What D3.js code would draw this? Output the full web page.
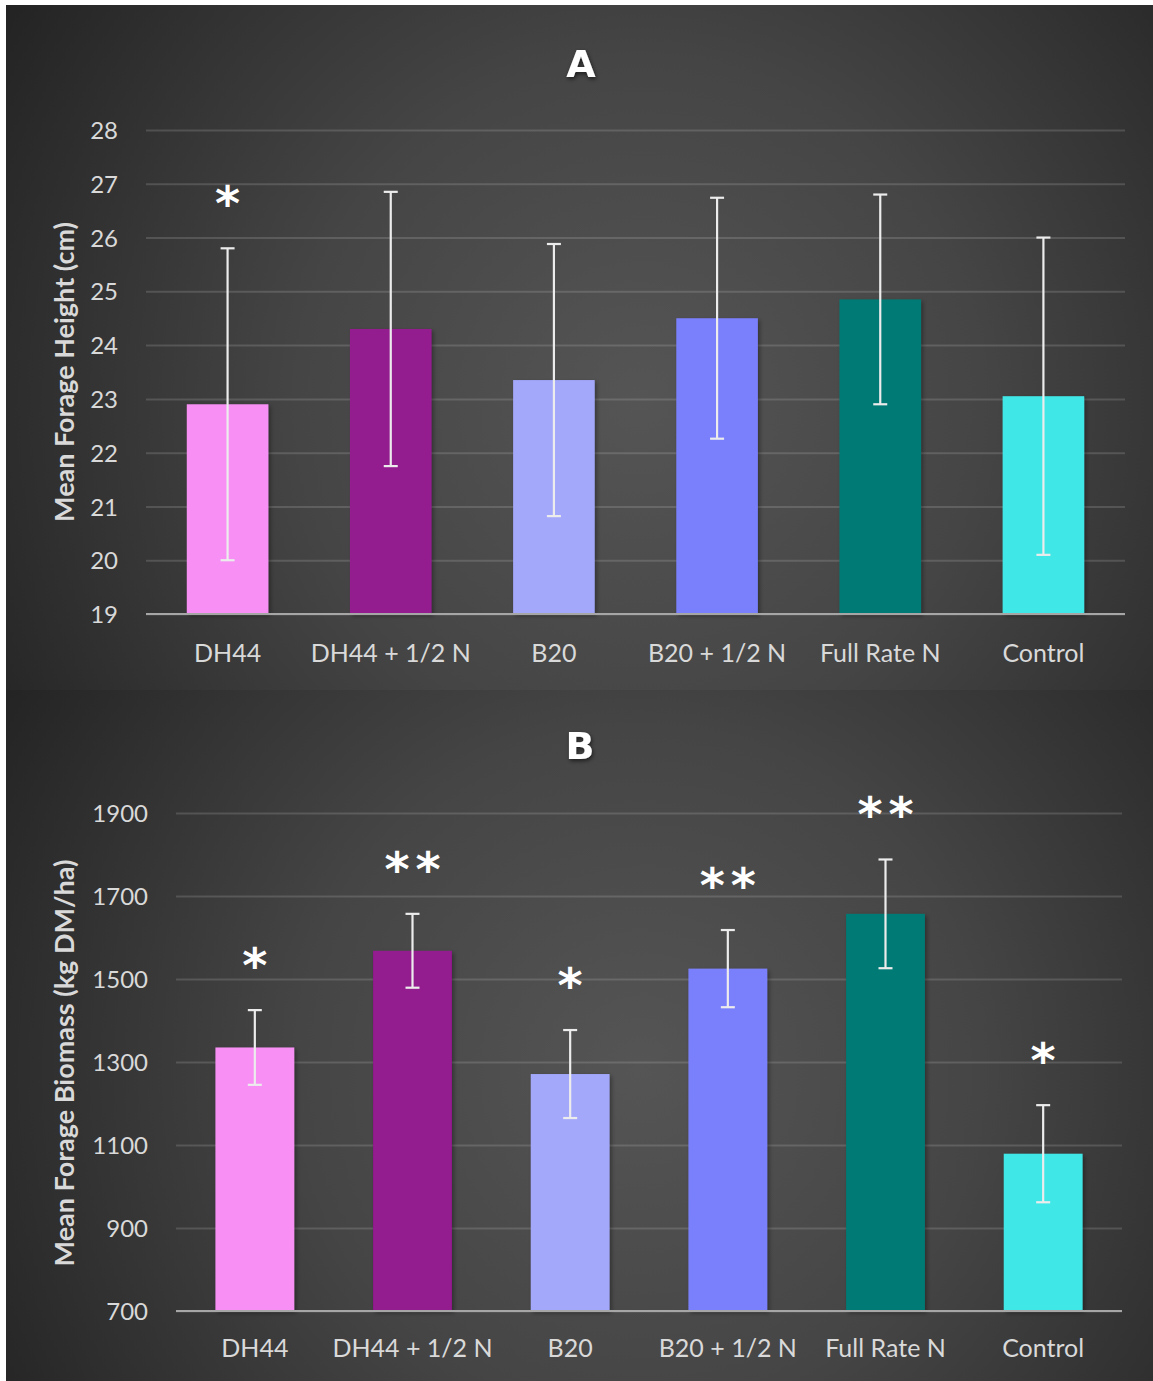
<!DOCTYPE html>
<html><head><meta charset="utf-8">
<script src="https://cdn.jsdelivr.net/npm/d3@7"></script>
<style>html,body{margin:0;padding:0;background:#fff;}svg{display:block;}</style>
</head><body>
<script>
const categories = ["DH44", "DH44 + 1/2 N", "B20", "B20 + 1/2 N", "Full Rate N", "Control"];
const colors = ["#f78ff5", "#931b8e", "#a3a8fb", "#7a7ffb", "#007a74", "#41e7e7"];
// Panel A: mean forage height (cm)
const heightMeans = [22.9, 24.3, 23.35, 24.5, 24.85, 23.05];
const heightErr   = [2.9, 2.55, 2.53, 2.24, 1.95, 2.95];
const heightStars = ["*", "", "", "", "", ""];
const heightTicks = [19, 20, 21, 22, 23, 24, 25, 26, 27, 28];
// Panel B: mean forage biomass (kg DM/ha)
const biomassMeans = [1335, 1568, 1271, 1525, 1657, 1079];
const biomassErr   = [90, 89, 106, 93, 131, 117];
const biomassStars = ["*", "**", "*", "**", "**", "*"];
const biomassTicks = [700, 900, 1100, 1300, 1500, 1700, 1900];

const W = 1153, H = 1381;
const svg = d3.select("body").append("svg").attr("width", W).attr("height", H);
const defs = svg.append("defs");
function radial(id, cx, cy, r) {
  const g = defs.append("radialGradient").attr("id", id).attr("gradientUnits", "userSpaceOnUse")
    .attr("cx", cx).attr("cy", cy).attr("r", r);
  g.append("stop").attr("offset", "0").attr("stop-color", "#555555");
  g.append("stop").attr("offset", "0.45").attr("stop-color", "#454545");
  g.append("stop").attr("offset", "1").attr("stop-color", "#222222");
}
radial("bgA", 640, 400, 760);
radial("bgB", 640, 1070, 760);
const sh = defs.append("filter").attr("id", "shadow").attr("x", "-20%").attr("y", "-20%").attr("width", "140%").attr("height", "140%");
sh.append("feDropShadow").attr("dx", 2).attr("dy", 2).attr("stdDeviation", 2).attr("flood-color", "#000").attr("flood-opacity", 0.35);
const tsh = defs.append("filter").attr("id", "tshadow").attr("x", "-50%").attr("y", "-50%").attr("width", "200%").attr("height", "200%");
tsh.append("feDropShadow").attr("dx", 1).attr("dy", 2).attr("stdDeviation", 2).attr("flood-color", "#000").attr("flood-opacity", 0.6);

svg.append("rect").attr("x", 6).attr("y", 5).attr("width", W - 6).attr("height", 686).attr("fill", "url(#bgA)");
svg.append("rect").attr("x", 6).attr("y", 690).attr("width", W - 6).attr("height", H - 690).attr("fill", "url(#bgB)");

const FONT = "Lato, 'Open Sans', sans-serif";
const TXT = "#d9d9d9";

function panel(o) {
  const g = svg.append("g");
  const x = d3.scaleBand().domain(categories).range([o.x0, o.x1]).paddingInner(0.5).paddingOuter(0.25);
  const y = d3.scaleLinear().domain(o.domain).range([o.yb, o.yt]);

  // gridlines via axis
  const grid = g.append("g").attr("transform", `translate(${o.x0},0)`)
    .call(d3.axisLeft(y).tickValues(o.ticks).tickSize(-(o.x1 - o.x0)).tickFormat(""));
  grid.select(".domain").remove();
  grid.selectAll(".tick line").attr("stroke", "#d9d9d9").attr("stroke-opacity", 0.18).attr("stroke-width", 2);

  // y tick labels
  const yAx = g.append("g").attr("transform", `translate(${o.labelX},0)`)
    .call(d3.axisLeft(y).tickValues(o.ticks).tickSize(0).tickPadding(0).tickFormat(d3.format("d")));
  yAx.select(".domain").remove();
  yAx.selectAll("text").attr("fill", TXT).style("font-family", FONT).style("font-size", "24px").attr("dy", "0.36em");

  // bars
  g.selectAll("rect.bar").data(categories).join("rect").attr("class", "bar")
    .attr("x", d => x(d)).attr("width", x.bandwidth())
    .attr("y", (d, i) => y(o.means[i])).attr("height", (d, i) => y(o.domain[0]) - y(o.means[i]))
    .attr("fill", (d, i) => colors[i]).attr("filter", "url(#shadow)");

  // baseline
  g.append("line").attr("x1", o.x0).attr("x2", o.x1).attr("y1", y(o.domain[0])).attr("y2", y(o.domain[0]))
    .attr("stroke", "#a6a6a6").attr("stroke-width", 2);

  // error bars
  const eg = g.append("g").attr("stroke", "#ececec").attr("stroke-width", 2.2).attr("fill", "none");
  categories.forEach((c, i) => {
    const cx = x(c) + x.bandwidth() / 2;
    const hi = y(o.means[i] + o.err[i]), lo = y(o.means[i] - o.err[i]);
    eg.append("line").attr("x1", cx).attr("x2", cx).attr("y1", hi).attr("y2", lo);
    eg.append("line").attr("x1", cx - 7).attr("x2", cx + 7).attr("y1", hi).attr("y2", hi);
    eg.append("line").attr("x1", cx - 7).attr("x2", cx + 7).attr("y1", lo).attr("y2", lo);
  });

  // stars above the error-bar tops
  g.selectAll("text.star").data(categories).join("text").attr("class", "star")
    .attr("x", d => x(d) + x.bandwidth() / 2 + 3)
    .attr("y", (d, i) => y(o.means[i] + o.err[i]) - o.starGap)
    .attr("text-anchor", "middle").attr("fill", "#ffffff")
    .style("font-family", "'DejaVu Sans', sans-serif").style("font-weight", 700).style("font-size", "48px")
    .attr("letter-spacing", "6px")
    .text((d, i) => o.stars[i]);

  // x labels
  const xAx = g.append("g").attr("transform", `translate(0,${o.xLabelY})`)
    .call(d3.axisBottom(x).tickSize(0).tickPadding(0));
  xAx.select(".domain").remove();
  xAx.selectAll("text").attr("fill", TXT).style("font-family", FONT).style("font-size", "25px").attr("dy", "0.36em").attr("y", 0);

  // y title
  g.append("text").attr("transform", `translate(${o.titleX},${o.titleY}) rotate(-90)`)
    .attr("text-anchor", "middle").attr("dy", "0.36em").attr("fill", TXT)
    .style("font-family", FONT).style("font-weight", 700).style("font-size", o.titleSize + "px")
    .text(o.ytitle);

  // panel letter
  g.append("text").attr("x", o.letterX).attr("y", o.letterY).attr("text-anchor", "middle").attr("dy", "0.36em")
    .attr("fill", "#ffffff").attr("filter", "url(#tshadow)")
    .style("font-family", "'DejaVu Sans', sans-serif").style("font-weight", 700).style("font-size", "38px")
    .text(o.letter);
}

panel({
  x0: 146, x1: 1125, yt: 130, yb: 614, domain: [19, 28], ticks: heightTicks,
  means: heightMeans, err: heightErr, stars: heightStars, starGap: 28,
  labelX: 118, xLabelY: 653, titleX: 64, titleY: 372, titleSize: 27,
  ytitle: "Mean Forage Height (cm)", letter: "A", letterX: 581, letterY: 63
});
panel({
  x0: 176, x1: 1122, yt: 813, yb: 1311, domain: [700, 1900], ticks: biomassTicks,
  means: biomassMeans, err: biomassErr, stars: biomassStars, starGap: 28,
  labelX: 148, xLabelY: 1348, titleX: 64, titleY: 1063, titleSize: 27,
  ytitle: "Mean Forage Biomass (kg DM/ha)", letter: "B", letterX: 580, letterY: 745
});
</script>
</body></html>
